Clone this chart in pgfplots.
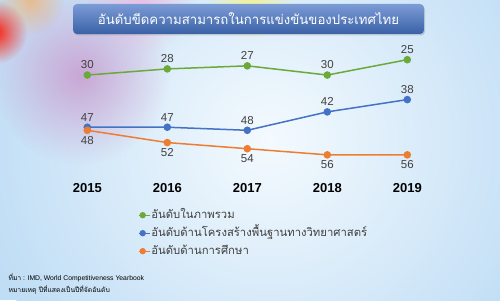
\documentclass[border=0pt]{standalone}
\usepackage{pgfplots}
\pgfplotsset{compat=1.18}
\usepackage{fontspec}
\setmainfont{Liberation Sans}
\newfontfamily\thai[Script=Thai]{Loma}
\usetikzlibrary{fadings}
\tikzfading[name=soft, inner color=transparent!0, outer color=transparent!100]
\definecolor{cgreen}{HTML}{6BAA3A}
\definecolor{cblue}{HTML}{4472C4}
\definecolor{corange}{HTML}{ED7D31}
\definecolor{tgray}{HTML}{404040}
\definecolor{bgout}{HTML}{BFDDF5}
\definecolor{bgin}{HTML}{F4FAFE}
\begin{document}
\begin{tikzpicture}[x=1pt,y=1pt]
% background
\begin{scope}
\clip (0,0) rectangle (500,300);
\fill[bgout] (0,0) rectangle (500,300);
\shade[inner color=bgin, outer color=bgout] (270,160) circle (300);
\fill[violet!45, path fading=soft, opacity=0.7] (80,225) circle (90);
\fill[magenta!35, path fading=soft, opacity=0.6] (140,300) circle (55);
\fill[yellow!70, path fading=soft, opacity=0.6] (250,305) circle (45);
\fill[orange!70, path fading=soft, opacity=0.6] (30,300) circle (35);
\fill[red!85!orange, path fading=soft, opacity=0.95] (-5,268) circle (32);
\end{scope}
% title banner
\fill[black, opacity=0.15, rounded corners=4pt] (74,264.5) rectangle (425,294.5);
\shade[top color=cblue!70!white, bottom color=cblue!85!black, rounded corners=4pt] (73,266) rectangle (424,296);
\node[text=white, font=\thai\fontsize{13.2}{16}\selectfont] at (248.5,281) {อันดับขีดความสามารถในการแข่งขันของประเทศไทย};
\begin{axis}[
  at={(87.3pt,120.6pt)}, anchor=south west,
  scale only axis, width=320pt, height=119.7pt,
  xmin=2015, xmax=2019, ymin=25, ymax=64, y dir=reverse,
  axis line style={draw=none}, ytick=\empty,
  xtick={2015,2016,2017,2018,2019},
  xticklabels={2015,2016,2017,2018,2019},
  major tick length=0pt,
  xticklabel style={font=\fontsize{13}{15}\selectfont\bfseries, text=black},
  clip=false,
  /pgf/number format/assume math mode=true,
  every axis plot/.append style={line width=1.5pt, mark=*, mark size=3pt},
  nodes near coords,
  every node near coord/.append style={font=\fontsize{11.5}{13}\selectfont, text=tgray},
  legend style={at={(axis description cs:0.158,-0.222)}, anchor=north west,
    draw=none, fill=none, inner sep=0pt,
    nodes={inner xsep=1pt, inner ysep=2pt, text height=10pt, text depth=4pt},
    font=\thai\fontsize{11.3}{14}\selectfont, text=tgray},
  legend cell align=left,
  legend image code/.code={\draw[mark repeat=2, mark phase=2, line width=1.3pt, mark size=2.5pt, #1] plot coordinates {(0pt,0pt) (4pt,0pt) (11pt,0pt)};},
]
\addplot[color=cgreen, every node near coord/.append style={anchor=south, yshift=2pt}] coordinates {(2015,30) (2016,28) (2017,27) (2018,30) (2019,25)};
\addlegendentry{อันดับในภาพรวม}
\addplot[color=cblue, every node near coord/.append style={anchor=south, yshift=2pt}] coordinates {(2015,47) (2016,47) (2017,48) (2018,42) (2019,38)};
\addlegendentry{อันดับด้านโครงสร้างพื้นฐานทางวิทยาศาสตร์}
\addplot[color=corange, every node near coord/.append style={anchor=north, yshift=-2pt}] coordinates {(2015,48) (2016,52) (2017,54) (2018,56) (2019,56)};
\addlegendentry{อันดับด้านการศึกษา}
\end{axis}
\node[anchor=west, font=\fontsize{6.8}{8}\selectfont, text=black] at (5,22) {{\thai ที่มา} : IMD, World Competitiveness Yearbook};
\node[anchor=west, font=\thai\fontsize{6.8}{8}\selectfont, text=black] at (5,10) {หมายเหตุ ปีที่แสดงเป็นปีที่จัดอันดับ};
\end{tikzpicture}
\end{document}
